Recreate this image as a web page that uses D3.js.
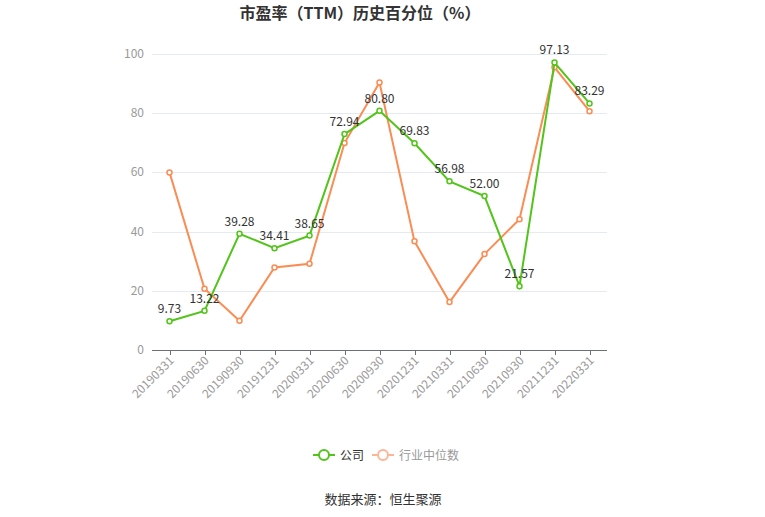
<!DOCTYPE html>
<html><head><meta charset="utf-8">
<script src="https://cdn.jsdelivr.net/npm/d3@7/dist/d3.min.js"></script>
<style>body{margin:0;background:#fff;font-family:"Noto Sans CJK SC","Noto Sans",sans-serif;}</style>
</head><body><svg id="c" width="765" height="517"></svg>
<script>
const categories = ["20190331","20190630","20190930","20191231","20200331","20200630","20200930","20201231","20210331","20210630","20210930","20211231","20220331"];
const company = [9.73,13.22,39.28,34.41,38.65,72.94,80.80,69.83,56.98,52.00,21.57,97.13,83.29];
const industry = [60.0,20.7,9.9,27.9,29.1,69.9,90.4,36.7,16.2,32.4,44.2,95.5,80.7];
const yTicks = [0,20,40,60,80,100];

(function(){
const svg = d3.select("#c");
const font = '"Noto Sans CJK SC","Noto Sans",sans-serif';
const pL = 152, pR = 607, pT = 54, pB = 350;
const x = d3.scaleBand().domain(categories).range([pL, pR]);
const cx = d => x(d) + x.bandwidth()/2;
const y = d3.scaleLinear().domain([0,100]).range([pB, pT]);

svg.append("text").attr("x",360).attr("y",19).attr("text-anchor","middle")
  .attr("font-family",font).attr("font-size",16).attr("font-weight","bold").attr("fill","#333")
  .text("市盈率（TTM）历史百分位（%）");

svg.append("g").selectAll("line").data(yTicks.filter(d=>d>0)).join("line")
  .attr("x1",pL).attr("x2",pR).attr("y1",d=>Math.round(y(d))+0.5).attr("y2",d=>Math.round(y(d))+0.5)
  .attr("stroke","#e6e9f2").attr("stroke-width",1);
svg.append("g").selectAll("text").data(yTicks).join("text")
  .attr("x",pL-8).attr("y",d=>y(d)+4).attr("text-anchor","end")
  .attr("font-family",font).attr("font-size",12).attr("fill","#999").text(d=>d);

svg.append("line").attr("x1",pL).attr("x2",pR).attr("y1",pB+0.5).attr("y2",pB+0.5)
  .attr("stroke","#6e7079").attr("stroke-width",1);
svg.append("g").selectAll("line").data(categories).join("line")
  .attr("x1",d=>Math.round(cx(d))+0.5).attr("x2",d=>Math.round(cx(d))+0.5)
  .attr("y1",pB).attr("y2",pB+5).attr("stroke","#6e7079");
svg.append("g").selectAll("text").data(categories).join("text")
  .attr("transform",d=>`translate(${cx(d)+3},${pB+9}) rotate(-45)`)
  .attr("text-anchor","end").attr("dominant-baseline","middle")
  .attr("font-family",font).attr("font-size",12).attr("fill","#999").text(d=>d);

const green = "#52c41a", orange = "#fa8c54";
const line = d3.line().x((d,i)=>cx(categories[i])).y(d=>y(d));
function series(data, color){
  svg.append("path").attr("d",line(data)).attr("fill","none").attr("stroke",color).attr("stroke-width",2);
  svg.append("g").selectAll("circle").data(data).join("circle")
    .attr("cx",(d,i)=>cx(categories[i])).attr("cy",d=>y(d)).attr("r",2.5)
    .attr("fill","#fff").attr("stroke",color).attr("stroke-width",1.5);
}
series(industry, orange);
series(company, green);
svg.append("g").selectAll("text").data(company).join("text")
  .attr("x",(d,i)=>cx(categories[i])).attr("y",d=>y(d)-8).attr("text-anchor","middle")
  .attr("font-family",font).attr("font-size",12).attr("fill","#333").text(d=>d.toFixed(2));

const leg = svg.append("g");
function legItem(x0, color, label, tcolor){
  leg.append("line").attr("x1",x0).attr("x2",x0+22).attr("y1",455).attr("y2",455).attr("stroke",color).attr("stroke-width",2);
  leg.append("circle").attr("cx",x0+11).attr("cy",455).attr("r",5).attr("fill","#fff").attr("stroke",color).attr("stroke-width",2);
  leg.append("text").attr("x",x0+27).attr("y",459.5).attr("font-family",font).attr("font-size",12).attr("fill",tcolor).text(label);
}
legItem(313, green, "公司", "#333");
legItem(372, "#fdb597", "行业中位数", "#999");

svg.append("text").attr("x",383).attr("y",504).attr("text-anchor","middle")
  .attr("font-family",font).attr("font-size",13).attr("fill","#333").text("数据来源：恒生聚源");
})();
</script></body></html>
